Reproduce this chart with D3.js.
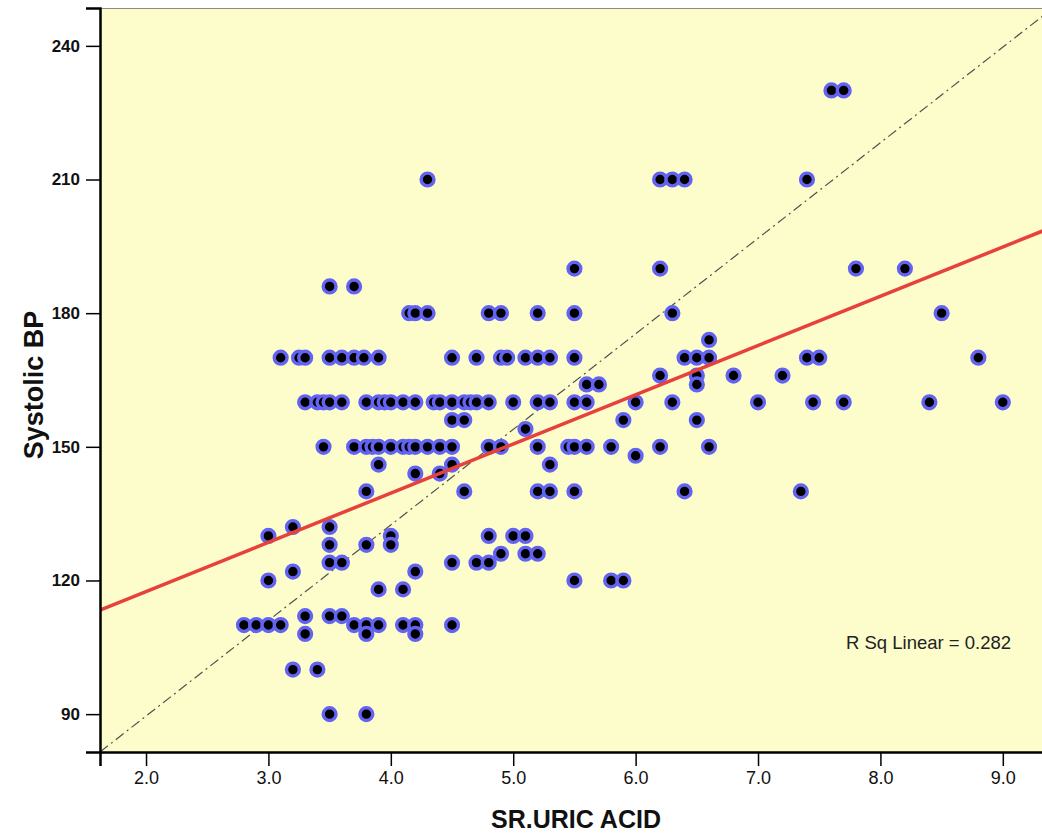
<!DOCTYPE html>
<html>
<head>
<meta charset="utf-8">
<script src="https://cdn.jsdelivr.net/npm/d3@7/dist/d3.min.js"></script>
<style>
  html, body { margin: 0; padding: 0; background: #ffffff; }
  svg { display: block; }
</style>
</head>
<body>
<svg id="chart" width="1042" height="834"></svg>
<script>
// ---- Data ----
const bpLevels = [230, 210, 190, 186, 180, 174, 170, 166, 164, 160, 156, 154, 150, 148, 146, 144, 140, 132, 130, 128, 126, 124, 122, 120, 118, 112, 110, 108, 100, 90];
const uricAtLevel = [
  [7.6, 7.7],
  [4.3, 6.2, 6.3, 6.4, 7.4],
  [5.5, 6.2, 7.8, 8.2],
  [3.5, 3.7],
  [4.15, 4.2, 4.3, 4.8, 4.9, 5.2, 5.5, 6.3, 8.5],
  [6.6],
  [3.1, 3.25, 3.3, 3.5, 3.6, 3.7, 3.78, 3.9, 4.5, 4.7, 4.9, 4.95, 5.1, 5.2, 5.3, 5.5, 6.4, 6.5, 6.6, 7.4, 7.5, 8.8],
  [6.2, 6.5, 6.8, 7.2],
  [5.6, 5.7, 6.5],
  [3.3, 3.4, 3.45, 3.5, 3.6, 3.8, 3.9, 3.95, 4.0, 4.1, 4.2, 4.35, 4.4, 4.5, 4.6, 4.65, 4.7, 4.8, 5.0, 5.2, 5.3, 5.5, 5.6, 6.0, 6.3, 7.0, 7.45, 7.7, 8.4, 9.0],
  [4.5, 4.6, 5.9, 6.5],
  [5.1],
  [3.45, 3.7, 3.8, 3.85, 3.9, 4.0, 4.1, 4.15, 4.2, 4.3, 4.4, 4.5, 4.8, 4.9, 5.2, 5.45, 5.5, 5.6, 5.8, 6.2, 6.6],
  [6.0],
  [3.9, 4.5, 5.3],
  [4.2, 4.4],
  [3.8, 4.6, 5.2, 5.3, 5.5, 6.4, 7.35],
  [3.2, 3.5],
  [3.0, 4.0, 4.8, 5.0, 5.1],
  [3.5, 3.8, 4.0],
  [4.9, 5.1, 5.2],
  [3.5, 3.6, 4.5, 4.7, 4.8],
  [3.2, 4.2],
  [3.0, 5.5, 5.8, 5.9],
  [3.9, 4.1],
  [3.3, 3.5, 3.6],
  [2.8, 2.9, 3.0, 3.1, 3.7, 3.8, 3.9, 4.1, 4.2, 4.5],
  [3.3, 3.8, 4.2],
  [3.2, 3.4],
  [3.5, 3.8]
];
const xTicks = [2.0, 3.0, 4.0, 5.0, 6.0, 7.0, 8.0, 9.0];
const yTicks = [90, 120, 150, 180, 210, 240];
const xDomain = [1.624, 9.41];
const yDomain = [81.5, 248.5];
const fitIntercept = 95.4;
const fitSlope = 11.05;
const rSqLabel = "R Sq Linear = 0.282";
const xTitle = "SR.URIC ACID";
const yTitle = "Systolic BP";

const points = [];
bpLevels.forEach((bp, i) => uricAtLevel[i].forEach(u => points.push({ x: u, y: bp })));

// ---- Layout ----
const plot = { left: 100, top: 8, right: 1053, bottom: 752 };
const svg = d3.select("#chart");
const x = d3.scaleLinear().domain(xDomain).range([plot.left, plot.right]);
const y = d3.scaleLinear().domain(yDomain).range([plot.bottom, plot.top]);

svg.append("defs").append("clipPath").attr("id", "plotClip")
  .append("rect")
  .attr("x", plot.left).attr("y", plot.top)
  .attr("width", plot.right - plot.left).attr("height", plot.bottom - plot.top);

const blur = svg.select("defs").append("filter").attr("id", "soft")
  .attr("x", "-50%").attr("y", "-50%").attr("width", "200%").attr("height", "200%");
blur.append("feGaussianBlur").attr("stdDeviation", 0.7);

// background
svg.append("rect")
  .attr("x", plot.left).attr("y", plot.top)
  .attr("width", plot.right - plot.left).attr("height", plot.bottom - plot.top)
  .attr("fill", "#fdfdcb");

const g = svg.append("g").attr("clip-path", "url(#plotClip)");

// reference diagonal (corner to corner)
g.append("line")
  .attr("x1", x(xDomain[0])).attr("y1", y(yDomain[0]))
  .attr("x2", x(xDomain[1])).attr("y2", y(yDomain[1]))
  .attr("stroke", "#505050").attr("stroke-width", 1.2)
  .attr("stroke-dasharray", "10,4,2,4");

// points
g.append("g").selectAll("circle").data(points).join("circle")
  .attr("cx", d => x(d.x)).attr("cy", d => y(d.y))
  .attr("r", 6.4)
  .attr("fill", "#000000")
  .attr("stroke", "#6363f2")
  .attr("stroke-width", 3.4)
  .attr("filter", "url(#soft)");

// fit line
g.append("line")
  .attr("x1", x(xDomain[0])).attr("y1", y(fitIntercept + fitSlope * xDomain[0]))
  .attr("x2", x(xDomain[1])).attr("y2", y(fitIntercept + fitSlope * xDomain[1]))
  .attr("stroke", "#e8403b").attr("stroke-width", 3.5);

// frame
svg.append("line").attr("x1", plot.left).attr("x2", plot.right)
  .attr("y1", plot.top + 0.5).attr("y2", plot.top + 0.5)
  .attr("stroke", "#8a8a8a").attr("stroke-width", 1);

// axes
const yAxis = d3.axisLeft(y).tickValues(yTicks).tickSize(14).tickPadding(6).tickFormat(d3.format("d"));
const yg = svg.append("g").attr("transform", `translate(${plot.left},0)`).call(yAxis);
yg.select(".domain").attr("stroke", "#000").attr("stroke-width", 2.5);
yg.selectAll(".tick line").attr("stroke", "#000").attr("stroke-width", 1.5);
yg.selectAll(".tick text")
  .attr("font-family", "'Liberation Sans', Arial, sans-serif")
  .attr("font-size", 17).attr("font-weight", "bold").attr("fill", "#111");

const xAxis = d3.axisBottom(x).tickValues(xTicks).tickSize(14).tickPadding(5).tickFormat(d3.format(".1f"));
const xg = svg.append("g").attr("transform", `translate(0,${plot.bottom})`).call(xAxis);
xg.select(".domain").attr("stroke", "#000").attr("stroke-width", 2.5);
xg.selectAll(".tick line").attr("stroke", "#000").attr("stroke-width", 1.5);
xg.selectAll(".tick text")
  .attr("font-family", "'Liberation Sans Narrow', 'Liberation Sans', Arial, sans-serif")
  .attr("font-size", 18).attr("fill", "#111");

// titles
svg.append("text")
  .attr("x", 576).attr("y", 828)
  .attr("text-anchor", "middle")
  .attr("font-family", "'Liberation Sans', Arial, sans-serif")
  .attr("font-size", 25).attr("font-weight", "bold").attr("fill", "#111")
  .text(xTitle);

svg.append("text")
  .attr("transform", "translate(43,385) rotate(-90)")
  .attr("text-anchor", "middle")
  .attr("font-family", "'Liberation Sans', Arial, sans-serif")
  .attr("font-size", 27).attr("font-weight", "bold").attr("fill", "#111")
  .text(yTitle);

// R square annotation
svg.append("text")
  .attr("x", 846).attr("y", 649)
  .attr("font-family", "'Liberation Sans', Arial, sans-serif")
  .attr("font-size", 18.5).attr("fill", "#222")
  .text(rSqLabel);
</script>
</body>
</html>
